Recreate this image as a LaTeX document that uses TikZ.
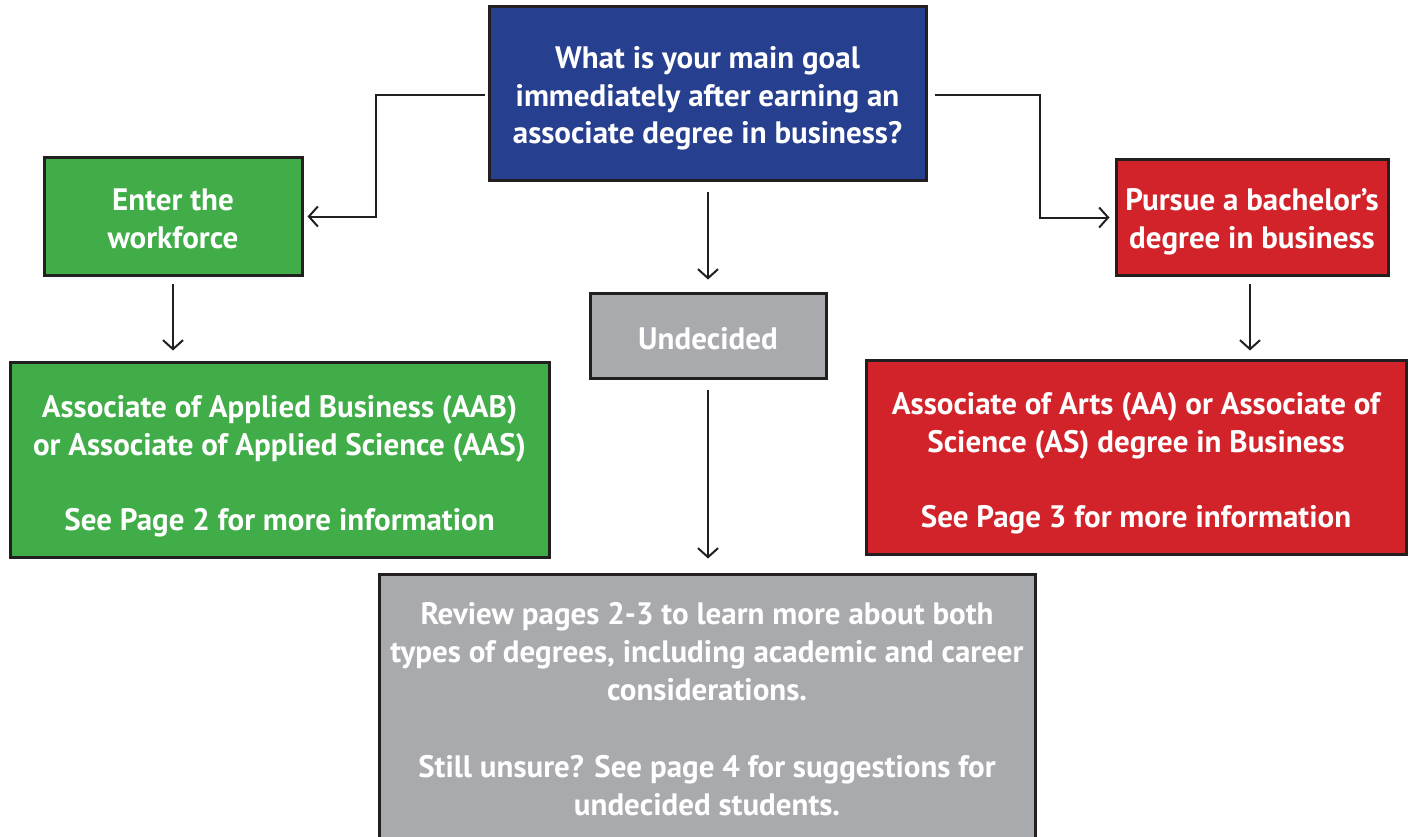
\documentclass[tikz,border=0pt]{standalone}
\usepackage{fontspec}
\setmainfont{PT Sans}
\usetikzlibrary{arrows.meta}
\definecolor{qblue}{HTML}{263F8E}
\definecolor{qgreen}{HTML}{41AD49}
\definecolor{qred}{HTML}{D2232A}
\definecolor{qgray}{HTML}{A9AAAD}
\definecolor{edge}{HTML}{231F20}
\begin{document}
\begin{tikzpicture}[x=1pt,y=-1pt,
  box/.style={draw=edge, line width=3pt, inner sep=0pt},
  txt/.style={text=white, align=center, inner sep=0pt,
    font=\fontsize{31}{37.5}\selectfont\bfseries},
  conn/.style={draw=edge, line width=2pt, -{Straight Barb[length=9pt,width=20pt,line width=2pt]}}]
\useasboundingbox (0,0) rectangle (1410,837);
% boxes
\node[box, fill=qblue, minimum width=437pt, minimum height=174pt] (q) at (707.5,94) {};
\node[box, fill=qgreen, minimum width=258pt, minimum height=117pt] (g1) at (173,216.5) {};
\node[box, fill=qred, minimum width=272pt, minimum height=115pt] (r1) at (1252,217.5) {};
\node[box, fill=qgray, minimum width=236pt, minimum height=85pt] (u) at (708,335.5) {};
\node[box, fill=qgreen, minimum width=539pt, minimum height=195pt] (g2) at (279.5,459.5) {};
\node[box, fill=qred, minimum width=540pt, minimum height=194pt] (r2) at (1136,457) {};
\node[box, fill=qgray, minimum width=656pt, minimum height=272pt] (s) at (707,710) {};
% texts
\node[txt] (qt) at ([yshift=-4.5pt]q.center)
  {What is your main goal\\immediately after earning an\\associate degree in business?};
\node[txt] (g1t) at ([yshift=-2.5pt]g1.center) {Enter the\\workforce};
\node[txt] (r1t) at ([yshift=-4.5pt]r1.center) {Pursue a bachelor’s\\degree in business};
\node[txt] (ut) at ([yshift=-3pt]u.center) {Undecided};
\node[txt] (g2t) at ([yshift=-6.5pt]g2.center)
  {Associate of Applied Business (AAB)\\or Associate of Applied Science (AAS)\\[37.5pt]See Page 2 for more information};
\node[txt] (r2t) at ([yshift=-6pt]r2.center)
  {Associate of Arts (AA) or Associate of\\Science (AS) degree in Business\\[37.5pt]See Page 3 for more information};
\node[txt, font=\fontsize{31}{38.3}\selectfont\bfseries] (st) at ([yshift=1pt]s.center)
  {Review pages 2-3 to learn more about both\\types of degrees, including academic and career\\considerations.\\[38.3pt]Still unsure? See page 4 for suggestions for\\undecided students.};
% connectors
\coordinate (lk) at (376,95);
\coordinate (rk) at (1040,95);
\draw[conn, shorten <=3pt, shorten >=4pt] (lk -| q.west) -- (lk) |- (g1.east);
\draw[conn, shorten <=7pt, shorten >=5pt] (rk -| q.east) -- (rk) |- (r1.west);
\draw[conn, shorten <=10pt, shorten >=12pt] (q.south -| u.north) -- (u.north);
\draw[conn, shorten <=7pt, shorten >=10pt] (g1.south) -- (g1.south |- g2.north);
\draw[conn, shorten <=7pt, shorten >=8pt] (r1.south -| 1250,0) -- (r2.north -| 1250,0);
\draw[conn, shorten <=10pt, shorten >=14pt] (u.south) -- (u.south |- s.north);
\end{tikzpicture}
\end{document}
